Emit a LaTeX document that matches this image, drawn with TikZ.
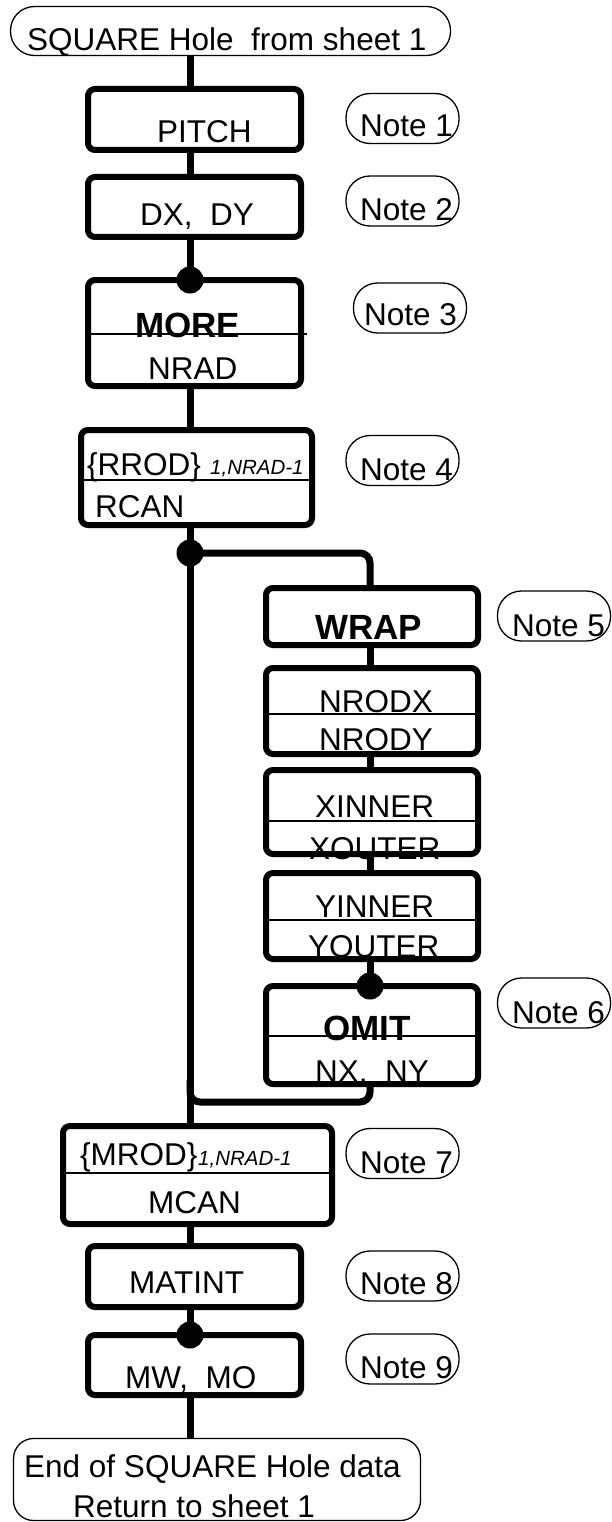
\documentclass[tikz,border=0pt]{standalone}
\usepackage{fontspec}
\setmainfont{Liberation Sans}
\newcommand\fsreg{\fontsize{31.5}{36}\selectfont}
\newcommand\fsbold{\fontsize{35}{40}\selectfont\bfseries}
\newcommand\fssub{\fontsize{20.5}{24}\selectfont\itshape}
\tikzset{
  box/.style={draw, line width=6pt, rounded corners=7pt, inner sep=0pt, outer sep=0pt},
  term/.style={draw, line width=1.3pt, inner sep=0pt, outer sep=0pt},
  note/.style={draw, line width=1.3pt, rounded corners=24pt, minimum width=113pt, minimum height=50pt, inner sep=0pt, outer sep=0pt},
  conn/.style={line width=7pt},
  divl/.style={line width=1.3pt},
  jdot/.style={circle, fill=black, minimum size=27pt, inner sep=0pt},
  txt/.style={anchor=base west, inner sep=0pt, font=\fsreg},
  btxt/.style={anchor=base west, inner sep=0pt, font=\fsbold},
  stxt/.style={anchor=base west, inner sep=0pt, font=\fssub}
}
\begin{document}
\begin{tikzpicture}[x=1pt,y=-1pt]
\useasboundingbox (0,0) rectangle (612,1522);
\coordinate (mx) at (190,0);
\coordinate (wx) at (370,0);
% ---- texts
\node[txt] (tTop) at (27,51) {SQUARE Hole\ \ from sheet 1};
\node[txt] (tPitch) at (157,143) {PITCH};
\node[txt] (tDx) at (140,226) {DX,\ \ DY};
\node[btxt] (tMore) at (135,337) {MORE};
\node[txt] (tNrad) at (148,379) {NRAD};
\node[txt] (tRrod) at (87,475) {\{RROD\}};
\node[stxt] (tRsub) at (210,474) {1,NRAD-1};
\node[txt] (tRcan) at (95,517) {RCAN};
\node[btxt] (tWrap) at (315,639) {WRAP};
\node[txt] (tNx) at (319,712) {NRODX};
\node[txt] (tNy) at (319,750) {NRODY};
\node[txt] (tXi) at (315,817) {XINNER};
\node[txt] (tXo) at (309,859) {XOUTER};
\node[txt] (tYi) at (315,917) {YINNER};
\node[txt] (tYo) at (308,957) {YOUTER};
\node[btxt] (tOmit) at (323,1040) {OMIT};
\node[txt] (tNxy) at (315,1082) {NX,\ \ NY};
\node[txt] (tMrod) at (80,1165) {\{MROD\}};
\node[stxt] (tMsub) at (198,1165) {1,NRAD-1};
\node[txt] (tMcan) at (148,1213) {MCAN};
\node[txt] (tMat) at (129,1293) {MATINT};
\node[txt] (tMw) at (125,1388) {MW,\ \ MO};
\node[txt] (tEnd1) at (24,1477) {End of SQUARE Hole data};
\node[txt] (tEnd2) at (73,1517) {Return to sheet 1};
\node[txt] (tN1) at (360,137) {Note 1};
\node[txt] (tN2) at (360,221) {Note 2};
\node[txt] (tN3) at (364,325) {Note 3};
\node[txt] (tN4) at (360,480) {Note 4};
\node[txt] (tN5) at (512,636) {Note 5};
\node[txt] (tN6) at (512,1023) {Note 6};
\node[txt] (tN7) at (360,1173) {Note 7};
\node[txt] (tN8) at (360,1294) {Note 8};
\node[txt] (tN9) at (360,1378) {Note 9};
% ---- terminals
\node[term, rounded corners=24pt, minimum width=440pt, minimum height=49pt] (top) at (230.5,31) {};
\node[term, rounded corners=20pt, minimum width=407pt, minimum height=82pt] (end) at (217,1479.5) {};
% ---- boxes
\node[box, minimum width=213pt, minimum height=61pt] (pitch) at (194.5,119.5) {};
\node[box, minimum width=213pt, minimum height=60pt] (dx) at (194.5,207) {};
\node[box, minimum width=213pt, minimum height=106pt] (more) at (194.5,333) {};
\node[box, minimum width=231pt, minimum height=95pt] (rrod) at (196.5,477.5) {};
\node[box, minimum width=212pt, minimum height=57pt] (wrap) at (372,616.5) {};
\node[box, minimum width=212pt, minimum height=86pt] (nrod) at (372,711) {};
\node[box, minimum width=212pt, minimum height=84pt] (xin) at (372,812) {};
\node[box, minimum width=212pt, minimum height=86pt] (yin) at (372,916) {};
\node[box, minimum width=212pt, minimum height=98pt] (omit) at (372,1035) {};
\node[box, minimum width=269pt, minimum height=98pt] (mrod) at (197.5,1175) {};
\node[box, minimum width=213pt, minimum height=61pt] (matint) at (194.5,1276.5) {};
\node[box, minimum width=213pt, minimum height=60pt] (mw) at (194.5,1365) {};
% ---- notes
\node[note] (n1) at (402.5,118.5) {};
\node[note] (n2) at (402.5,201) {};
\node[note] (n3) at (410,308) {};
\node[note] (n4) at (402.5,460.5) {};
\node[note] (n5) at (554,616) {};
\node[note] (n6) at (554,1003) {};
\node[note] (n7) at (402.5,1153.5) {};
\node[note] (n8) at (402.5,1276) {};
\node[note] (n9) at (402.5,1359) {};
% ---- dividers
\draw[divl] (more.west |- 0,334) -- (307,334);
\draw[divl] (rrod.west |- 0,480) -- (rrod.east |- 0,480);
\draw[divl] (nrod.west |- 0,714) -- (nrod.east |- 0,714);
\draw[divl] (xin.west |- 0,821) -- (xin.east |- 0,821);
\draw[divl] (yin.west |- 0,920) -- (yin.east |- 0,920);
\draw[divl] (omit.west |- 0,1036) -- (omit.east |- 0,1036);
\draw[divl] (mrod.west |- 0,1173) -- (mrod.east |- 0,1173);
% ---- connectors
\coordinate (jn) at (190,553);
\coordinate (ret) at (370,1102);
\coordinate (retL) at (190,1102);
\coordinate (retU) at (190,1080);
\draw[conn] (top.south -| mx) -- (pitch.north -| mx);
\draw[conn] (pitch.south -| mx) -- (dx.north -| mx);
\draw[conn] (dx.south -| mx) -- (more.north -| mx);
\draw[conn] (more.south -| mx) -- (rrod.north -| mx);
\draw[conn] (rrod.south -| mx) -- (mrod.north -| mx);
\draw[conn, rounded corners=10pt] (jn) -- (jn -| wx) -- (wrap.north -| wx);
\draw[conn] (wrap.south -| wx) -- (nrod.north -| wx);
\draw[conn] (nrod.south -| wx) -- (xin.north -| wx);
\draw[conn] (xin.south -| wx) -- (yin.north -| wx);
\draw[conn] (yin.south -| wx) -- (omit.north -| wx);
\draw[conn, rounded corners=10pt] (omit.south -| wx) -- (ret) -- (retL) -- (retU);
\draw[conn] (mrod.south -| mx) -- (matint.north -| mx);
\draw[conn] (matint.south -| mx) -- (mw.north -| mx);
\draw[conn] (mw.south -| mx) -- (end.north -| mx);
% ---- junction dots
\node[jdot] (d1) at (more.north -| mx) {};
\node[jdot] (d2) at (jn) {};
\node[jdot] (d3) at (omit.north -| wx) {};
\node[jdot] (d4) at (mw.north -| mx) {};
\end{tikzpicture}
\end{document}
